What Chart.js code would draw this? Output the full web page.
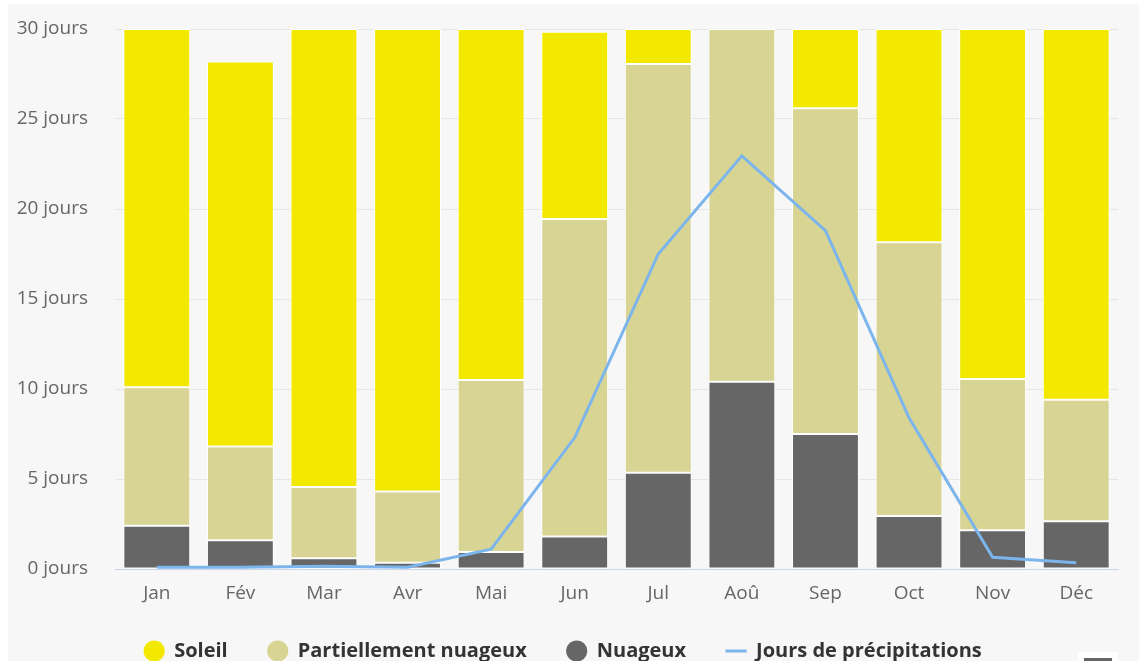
<!DOCTYPE html>
<html>
<head>
<meta charset="utf-8">
<script src="https://cdn.jsdelivr.net/npm/chart.js@4"></script>
<style>
    html, body { margin: 0; padding: 0; background: #fff; overflow: hidden; }
    #wrap { position: absolute; left: 8px; top: 4px; width: 1131px; height: 672px; background: #f7f7f7; }
    #btn { position: absolute; left: 1078px; top: 652px; width: 40px; height: 20px; background: #fff; border-radius: 3px; }
    #btn span { position: absolute; left: 6px; top: 6px; width: 28px; height: 12px; background: #666; }
</style>
</head>
<body>
<div id="wrap"><canvas id="chart-bars"></canvas></div>
<div id="btn"><span></span></div>
<script>
var months = ["Jan", "Fév", "Mar", "Avr", "Mai", "Jun", "Jul", "Aoû", "Sep", "Oct", "Nov", "Déc"];
var cloudy = [2.4, 1.6, 0.6, 0.35, 0.95, 1.8, 5.35, 10.4, 7.5, 2.95, 2.15, 2.65];
var partly = [7.7, 5.2, 3.95, 3.95, 9.55, 17.65, 22.7, 19.6, 18.1, 15.2, 8.4, 6.75];
var sunny = [19.9, 21.4, 25.45, 25.7, 19.5, 10.4, 1.95, 0, 4.4, 11.85, 19.45, 20.6];
var rainDays = [0.1, 0.1, 0.15, 0.1, 1.1, 7.3, 17.5, 22.95, 18.8, 8.4, 0.65, 0.35];
var yTicks = [0, 5, 10, 15, 20, 25, 30];

var ctx = document.getElementById("chart-bars").getContext("2d");

new Chart(ctx, {
    plugins: [{
        beforeInit(chart) {
            const originalFit = chart.legend.fit;
            chart.legend.fit = function fit() {
                originalFit.bind(chart.legend)();
                this.height = 70;
            }
        },
        afterLayout(chart) {
            // pull the legend row up a bit, it sits just under the axis labels
            chart.legend.top -= 5;
            chart.legend.bottom -= 5;
        },
    }],
    type: "bar",
    data: {
        labels: months,
        datasets: [{
                type: "line",
                label: "Jours de précipitations",
                data: rainDays,
                stack: "rain",
                order: 0,
                tension: 0,
                borderWidth: 3,
                borderColor: "#7cb5ec",
                backgroundColor: "#7cb5ec",
                pointRadius: 0,
                pointStyle: "line",
                fill: false
            },
            {
                label: "Nuageux",
                data: cloudy,
                stack: "sky",
                order: 1,
                backgroundColor: "#666666",
                borderColor: "#ffffff",
                borderWidth: 1,
                borderSkipped: false,
                pointStyle: "circle"
            },
            {
                label: "Partiellement nuageux",
                data: partly,
                stack: "sky",
                order: 1,
                backgroundColor: "#d8d493",
                borderColor: "#ffffff",
                borderWidth: 1,
                borderSkipped: false,
                pointStyle: "circle"
            },
            {
                label: "Soleil",
                data: sunny,
                stack: "sky",
                order: 1,
                backgroundColor: "#f3e900",
                borderColor: "#ffffff",
                borderWidth: 1,
                borderSkipped: false,
                pointStyle: "circle"
            },
        ],
    },
    options: {
        responsive: true,
        maintainAspectRatio: false,
        animation: false,
        layout: {
            padding: { top: 25, right: 21, left: 0, bottom: 0 }
        },
        datasets: {
            bar: { barPercentage: 0.8, categoryPercentage: 1 }
        },
        plugins: {
            legend: {
                display: true,
                position: 'bottom',
                reverse: true,
                labels: {
                    usePointStyle: true,
                    boxHeight: 15,
                    padding: 40,
                    color: "#333333",
                    font: {
                        size: 20,
                        family: "Open Sans",
                        weight: 'bold'
                    },
                    generateLabels: function(chart) {
                        var items = Chart.defaults.plugins.legend.labels.generateLabels(chart);
                        items.forEach(function(item) {
                            if (item.pointStyle === 'circle') {
                                item.lineWidth = 0;
                                item.strokeStyle = 'rgba(0,0,0,0)';
                            }
                        });
                        return items;
                    }
                },
            },
            tooltip: { enabled: false }
        },
        scales: {
            y: {
                stacked: true,
                min: 0,
                max: 30,
                afterFit: function(scale) {
                    scale.width = 107;
                    scale.paddingTop = 0;
                    scale.paddingBottom = 0;
                },
                afterBuildTicks: function(scale) {
                    scale.ticks = yTicks.map(function(v) { return { value: v }; });
                },
                border: { display: false },
                grid: {
                    color: "#e6e6e6",
                    drawTicks: false,
                },
                ticks: {
                    padding: 27,
                    color: "#666666",
                    font: { size: 19, family: "Open Sans" },
                    callback: function(value) { return value + ' jours'; }
                },
            },
            x: {
                stacked: true,
                afterFit: function(scale) { scale.height = 37; },
                border: { display: true, color: "#ccd6eb", width: 1 },
                grid: { display: false, drawTicks: false },
                ticks: {
                    padding: 13,
                    color: "#666666",
                    font: { size: 19, family: "Open Sans" }
                },
            },
        },
    },
});
</script>
</body>
</html>
